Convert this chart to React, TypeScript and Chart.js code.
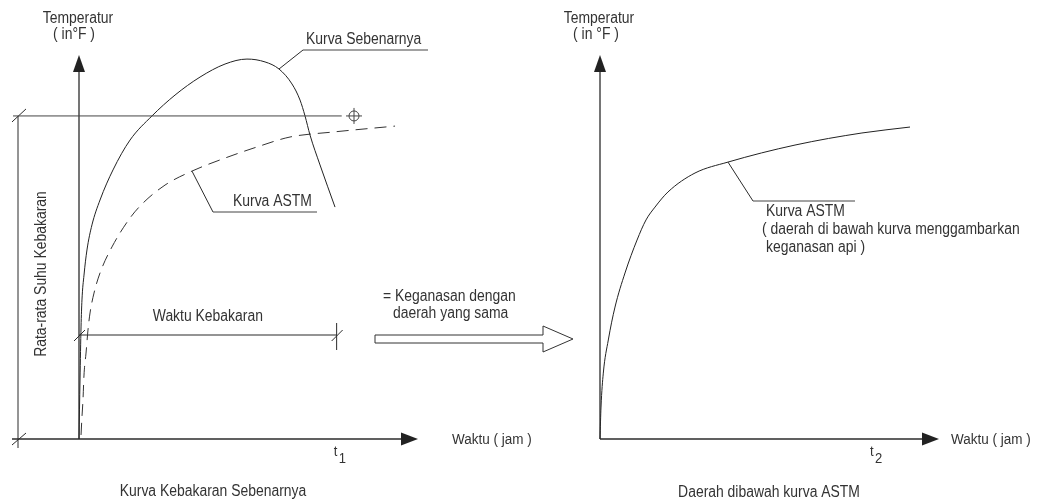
import React, { useEffect, useRef } from "react";
import { Chart, registerables } from "chart.js";

Chart.register(...registerables);

// ---- Data (time in hours, temperature in °F) ----
const timeSebenarnya = [0, 0.012, 0.024, 0.035, 0.059, 0.094, 0.153, 0.248, 0.401, 0.602, 0.861, 1.133, 1.428, 1.723, 1.982, 2.195, 2.36, 2.513, 2.608, 2.667, 2.726, 2.844, 3.021];
const tempSebenarnya = [0, 308, 585, 726, 856, 987, 1118, 1248, 1405, 1561, 1687, 1796, 1890, 1958, 1984, 1969, 1932, 1854, 1770, 1687, 1587, 1431, 1211];

const timeAstmLeft = [0.024, 0.035, 0.047, 0.059, 0.083, 0.106, 0.13, 0.177, 0.248, 0.389, 0.602, 0.755, 1.015, 1.333, 1.723, 2.1, 2.49, 2.997, 3.729];
const tempAstmLeft = [21, 115, 204, 334, 449, 569, 658, 762, 867, 1003, 1154, 1232, 1326, 1399, 1467, 1525, 1577, 1603, 1634];

const timeAstmRight = [0, 0.012, 0.039, 0.098, 0.177, 0.295, 0.437, 0.543, 0.649, 0.802, 1.121, 1.51, 2.301, 3.091, 3.658];
const tempAstmRight = [0, 167, 344, 517, 689, 867, 1039, 1144, 1211, 1290, 1389, 1446, 1535, 1598, 1629];

const avgTemp = 1687; // Rata-rata suhu kebakaran
const fireTimeLevel = 543; // level of the "Waktu Kebakaran" dimension line
const t1 = 3.04;
const t2 = 3.22;
const tickLabels = ["t", "1", "2"];
const axisTitleY = ["Temperatur", "( in°F )", "( in °F )"];
const axisTitleX = "Waktu ( jam )";

const X_MAX = 4;
const Y_MAX = 2000;
const INK = "#2b2b2b";
const FONT = '"Liberation Sans", Arial, sans-serif';

function txt(ctx: CanvasRenderingContext2D, s: string, x: number, y: number, align: CanvasTextAlign = "left", size = 16, rot = 0) {
  ctx.save();
  ctx.translate(x, y);
  if (rot) ctx.rotate(rot);
  ctx.scale(0.87, 1);
  ctx.font = `${size}px ${FONT}`;
  ctx.textAlign = align;
  ctx.textBaseline = "middle";
  ctx.fillStyle = "#333";
  ctx.fillText(s, 0, 0);
  ctx.restore();
}

function line(ctx: CanvasRenderingContext2D, x1: number, y1: number, x2: number, y2: number, w = 1, color = INK) {
  ctx.save();
  ctx.strokeStyle = color;
  ctx.lineWidth = w;
  ctx.beginPath();
  ctx.moveTo(x1, y1);
  ctx.lineTo(x2, y2);
  ctx.stroke();
  ctx.restore();
}

function tri(ctx: CanvasRenderingContext2D, pts: number[][]) {
  ctx.save();
  ctx.fillStyle = "#222";
  ctx.beginPath();
  ctx.moveTo(pts[0][0], pts[0][1]);
  for (let i = 1; i < pts.length; i++) ctx.lineTo(pts[i][0], pts[i][1]);
  ctx.closePath();
  ctx.fill();
  ctx.restore();
}

function drawAxes(chart: any, xStart: number, titleGap: number) {
  const ctx = chart.ctx as CanvasRenderingContext2D;
  const a = chart.chartArea;
  const x0 = chart.scales.x.getPixelForValue(0);
  const y0 = chart.scales.y.getPixelForValue(0);
  line(ctx, x0, y0, x0, a.top + 14, 1.3);
  tri(ctx, [[x0, a.top - 1], [x0 - 6, a.top + 16], [x0 + 6, a.top + 16]]);
  line(ctx, xStart, y0, a.right - 14, y0, 1.3);
  tri(ctx, [[a.right, y0], [a.right - 17, y0 - 6.5], [a.right - 17, y0 + 6.5]]);
  txt(ctx, axisTitleX, a.right + titleGap, y0 + 1, "left", 15.5);
}

const leftPlugin = {
  id: "leftDecor",
  afterDatasetsDraw(chart: any) {
    const ctx = chart.ctx as CanvasRenderingContext2D;
    const xs = chart.scales.x;
    const ys = chart.scales.y;
    const x0 = xs.getPixelForValue(0);
    const y0 = ys.getPixelForValue(0);
    drawAxes(chart, 12, 34);
    // left bracket for average temperature
    const yAvg = ys.getPixelForValue(avgTemp);
    const bx = 18;
    line(ctx, bx, yAvg, bx, y0 + 9, 1);
    line(ctx, bx - 6, yAvg + 6, bx + 8, yAvg - 7, 1);
    line(ctx, bx - 6, y0 + 6, bx + 8, y0 - 6, 1);
    line(ctx, 13, yAvg, xs.getPixelForValue(3.1), yAvg, 1, "#444");
    // crosshair marker
    const cx = xs.getPixelForValue(3.245);
    ctx.save();
    ctx.strokeStyle = "#444";
    ctx.lineWidth = 1;
    ctx.beginPath();
    ctx.arc(cx, yAvg, 5, 0, Math.PI * 2);
    ctx.stroke();
    ctx.restore();
    line(ctx, cx - 8, yAvg, cx + 8, yAvg, 1, "#444");
    line(ctx, cx, yAvg - 8, cx, yAvg + 8, 1, "#444");
    // Waktu Kebakaran dimension line
    const yf = ys.getPixelForValue(fireTimeLevel);
    const xt1 = xs.getPixelForValue(t1);
    line(ctx, x0, yf, xt1, yf, 1.2);
    line(ctx, x0 - 5, yf + 6, x0 + 6, yf - 5, 1);
    line(ctx, xt1 - 5, yf + 6, xt1 + 6, yf - 5, 1);
    line(ctx, xt1, yf - 12, xt1, yf + 15, 1);
    txt(ctx, "Waktu Kebakaran", (x0 + xt1) / 2 + 0, yf - 18, "center");
    // t1 label
    txt(ctx, tickLabels[0], xt1 - 3, y0 + 13, "left", 15);
    txt(ctx, tickLabels[1], xt1 + 2, y0 + 20, "left", 15);
    // titles
    txt(ctx, axisTitleY[0], x0 - 1, 19, "center");
    txt(ctx, axisTitleY[1], x0 - 5, 35, "center");
    txt(ctx, "Rata-rata Suhu Kebakaran", 42, 274, "center", 16, -Math.PI / 2);
    txt(ctx, "Kurva Kebakaran Sebenarnya", 213, 492, "center");
    // leaders
    const pk = [xs.getPixelForValue(2.36), ys.getPixelForValue(1932)];
    line(ctx, pk[0], pk[1], 303, 50, 1);
    line(ctx, 303, 50, 428, 50, 1, "#444");
    txt(ctx, "Kurva Sebenarnya", 306, 40);
    const pa = [xs.getPixelForValue(1.333), ys.getPixelForValue(1399)];
    line(ctx, pa[0], pa[1], 213, 212, 1);
    line(ctx, 213, 212, 317, 212, 1, "#444");
    txt(ctx, "Kurva ASTM", 233, 202);
    // hollow arrow and text
    ctx.save();
    ctx.strokeStyle = "#333";
    ctx.fillStyle = "#fff";
    ctx.lineWidth = 1;
    ctx.beginPath();
    const pts = [[375, 335], [543, 335], [543, 326], [573, 339], [543, 352], [543, 343], [375, 343]];
    ctx.moveTo(pts[0][0], pts[0][1]);
    for (let i = 1; i < pts.length; i++) ctx.lineTo(pts[i][0], pts[i][1]);
    ctx.closePath();
    ctx.fill();
    ctx.stroke();
    ctx.restore();
    txt(ctx, "= Keganasan dengan", 383, 297);
    txt(ctx, "daerah yang sama", 393, 314);
  },
};

const rightPlugin = {
  id: "rightDecor",
  afterDatasetsDraw(chart: any) {
    const ctx = chart.ctx as CanvasRenderingContext2D;
    const xs = chart.scales.x;
    const ys = chart.scales.y;
    const x0 = xs.getPixelForValue(0);
    const y0 = ys.getPixelForValue(0);
    drawAxes(chart, x0, 12);
    const xt2 = xs.getPixelForValue(t2);
    txt(ctx, tickLabels[0], xt2 - 3, y0 + 13, "left", 15);
    txt(ctx, tickLabels[2], xt2 + 2, y0 + 20, "left", 15);
    txt(ctx, axisTitleY[0], x0 - 1, 19, "center");
    txt(ctx, axisTitleY[2], x0 - 4, 35, "center");
    txt(ctx, "Daerah dibawah kurva ASTM", 769, 493, "center");
    const pa = [xs.getPixelForValue(1.51), ys.getPixelForValue(1446)];
    line(ctx, pa[0], pa[1], 753, 201, 1);
    line(ctx, 753, 201, 855, 201, 1, "#444");
    txt(ctx, "Kurva ASTM", 766, 212);
    txt(ctx, "( daerah di bawah kurva menggambarkan", 762, 230);
    txt(ctx, "keganasan api )", 766, 248);
  },
};

function pts(xs: number[], ys: number[]) {
  return xs.map((x, i) => ({ x, y: ys[i] }));
}

function baseOptions(padding: any) {
  return {
    responsive: false,
    animation: false as const,
    devicePixelRatio: 1,
    layout: { padding },
    plugins: { legend: { display: false }, tooltip: { enabled: false } },
    elements: { point: { radius: 0 } },
    scales: {
      x: { type: "linear" as const, min: 0, max: X_MAX, display: false },
      y: { type: "linear" as const, min: 0, max: Y_MAX, display: false },
    },
  };
}

export default function App() {
  const leftRef = useRef<HTMLCanvasElement>(null);
  const rightRef = useRef<HTMLCanvasElement>(null);

  useEffect(() => {
    const left = new Chart(leftRef.current!, {
      type: "line",
      data: {
        datasets: [
          {
            label: "Kurva Sebenarnya",
            data: pts(timeSebenarnya, tempSebenarnya),
            borderColor: "#222",
            borderWidth: 1,
            cubicInterpolationMode: "monotone",
            fill: false,
          },
          {
            label: "Kurva ASTM",
            data: pts(timeAstmLeft, tempAstmLeft),
            borderColor: "#333",
            borderWidth: 1,
            borderDash: [12, 7],
            cubicInterpolationMode: "monotone",
            fill: false,
          },
        ],
      },
      options: { ...baseOptions({ left: 79, right: 622, top: 56, bottom: 62 }), clip: false } as any,
      plugins: [leftPlugin],
    });
    const right = new Chart(rightRef.current!, {
      type: "line",
      data: {
        datasets: [
          {
            label: "Kurva ASTM",
            data: pts(timeAstmRight, tempAstmRight),
            borderColor: "#222",
            borderWidth: 1,
            cubicInterpolationMode: "monotone",
            fill: false,
          },
        ],
      },
      options: { ...baseOptions({ left: 600, right: 101, top: 56, bottom: 62 }), clip: false } as any,
      plugins: [rightPlugin],
    });
    return () => {
      left.destroy();
      right.destroy();
    };
  }, []);

  const cs: React.CSSProperties = { position: "absolute", left: 0, top: 0, width: 1040, height: 501 };
  return (
    <div style={{ position: "fixed", left: 0, top: 0, width: 1040, height: 501, background: "#fff" }}>
      <canvas ref={leftRef} width={1040} height={501} style={cs} />
      <canvas ref={rightRef} width={1040} height={501} style={cs} />
    </div>
  );
}
